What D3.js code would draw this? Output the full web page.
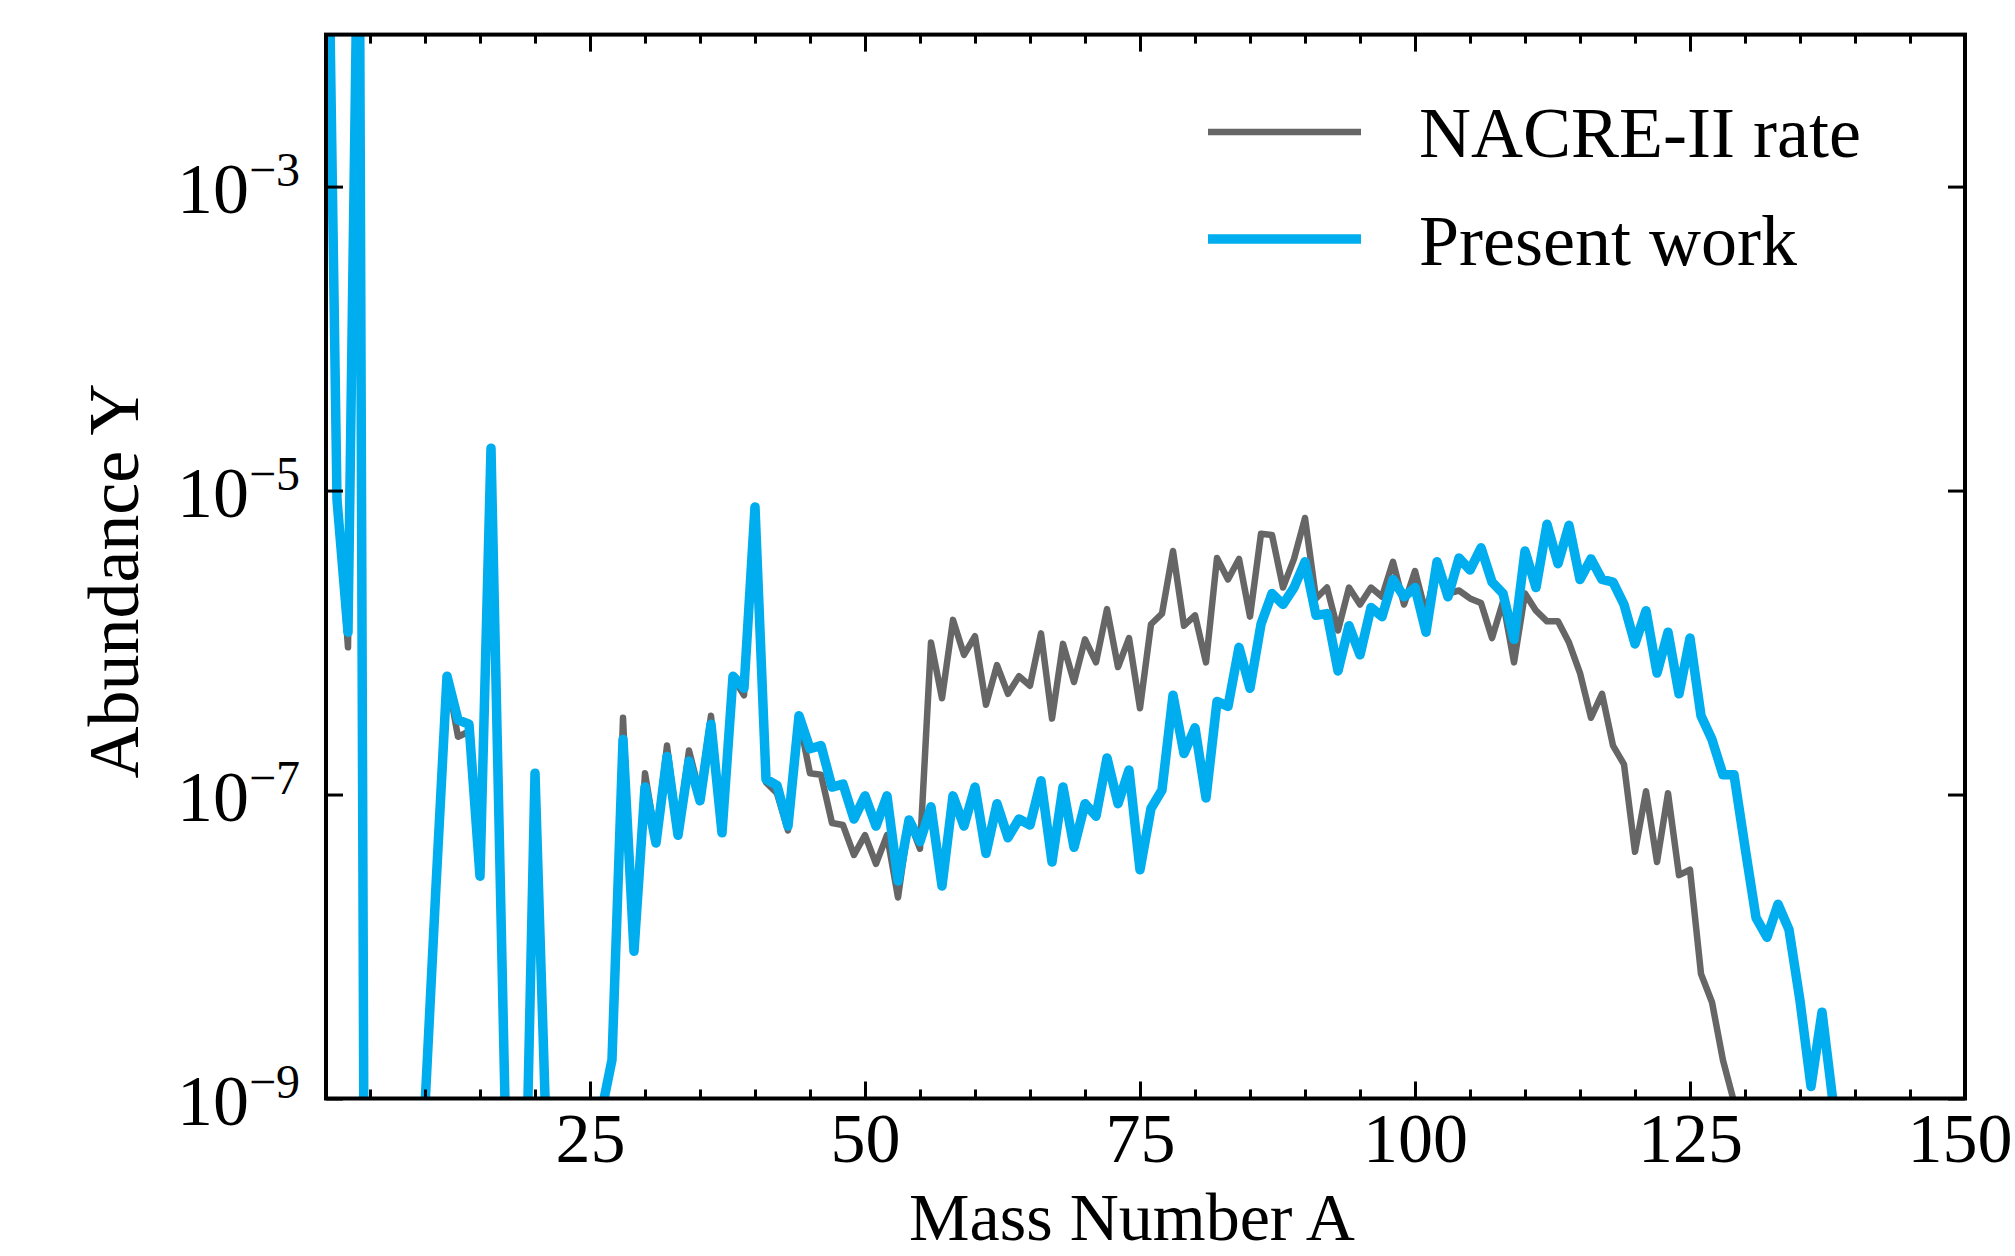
<!DOCTYPE html>
<html>
<head>
<meta charset="utf-8">
<script src="https://cdn.jsdelivr.net/npm/d3@7"></script>
<style>
  html, body { margin: 0; padding: 0; background: #ffffff; }
  svg { display: block; }
  text { font-family: "Liberation Serif", "DejaVu Serif", serif; fill: #000; }
</style>
</head>
<body>
<svg id="chart" width="2015" height="1256"></svg>
<script>
// ---------------- data ----------------
const massNumbers = d3.range(1, 141); // A = 1 .. 140

// NACRE-II rate abundances, A = 1..140
const nacreAbundance = [
  7.1e-1, 8.7e-6, 9.3e-7, 2.5e-1, 1e-20, 1e-20, 1e-20, 1e-20, 1e-20, 8.9e-10,   // 1-10
  2.5e-8, 6.0e-7, 2.4e-7, 2.6e-7, 2.9e-8, 1.9e-5, 7.9e-9, 3.2e-12, 6.3e-11, 1.38e-7, // 11-20
  6.3e-10, 1e-20, 1e-20, 1e-20, 1e-20, 7.9e-10, 1.8e-9, 3.2e-7, 9.3e-9, 1.38e-7, // 21-30
  5.0e-8, 2.1e-7, 5.6e-8, 1.95e-7, 1.0e-7, 3.3e-7, 5.6e-8, 5.9e-7, 4.5e-7, 7.8e-6, // 31-40
  1.2e-7, 1.02e-7, 5.8e-8, 3.16e-7, 1.38e-7, 1.35e-7, 6.5e-8, 6.3e-8, 4.0e-8, 5.4e-8, // 41-50
  3.5e-8, 5.4e-8, 2.1e-8, 6.8e-8, 4.4e-8, 1.0e-6, 4.3e-7, 1.41e-6, 8.3e-7, 1.10e-6, // 51-60
  3.9e-7, 7.1e-7, 4.6e-7, 6.0e-7, 5.2e-7, 1.15e-6, 3.16e-7, 9.8e-7, 5.5e-7, 1.05e-6, // 61-70
  7.4e-7, 1.66e-6, 6.9e-7, 1.07e-6, 3.7e-7, 1.32e-6, 1.55e-6, 4.0e-6, 1.29e-6, 1.51e-6, // 71-80
  7.4e-7, 3.6e-6, 2.6e-6, 3.55e-6, 1.48e-6, 5.2e-6, 5.1e-6, 2.3e-6, 3.55e-6, 6.6e-6, // 81-90
  1.95e-6, 2.3e-6, 1.2e-6, 2.3e-6, 1.78e-6, 2.3e-6, 2.0e-6, 3.4e-6, 1.78e-6, 2.95e-6, // 91-100
  1.55e-6, 3.3e-6, 2.1e-6, 2.2e-6, 1.95e-6, 1.82e-6, 1.07e-6, 1.86e-6, 7.4e-7, 2.1e-6, // 101-110
  1.62e-6, 1.38e-6, 1.38e-6, 1.0e-6, 6.3e-7, 3.2e-7, 4.6e-7, 2.1e-7, 1.58e-7, 4.2e-8, // 111-120
  1.05e-7, 3.6e-8, 1.02e-7, 2.95e-8, 3.2e-8, 6.6e-9, 4.3e-9, 1.78e-9, 9.5e-10, 1e-10, // 121-130
  1e-20, 1e-20, 1e-20, 1e-20, 1e-20, 1e-20, 1e-20, 1e-20, 1e-20, 1e-20            // 131-140
];

// Present work abundances, A = 1..140
const presentAbundance = [
  7.1e-1, 8.7e-6, 1.17e-6, 2.5e-1, 1e-20, 1e-20, 1e-20, 1e-20, 1e-20, 8.9e-10,  // 1-10
  2.5e-8, 6.0e-7, 3.1e-7, 2.9e-7, 2.9e-8, 1.9e-5, 7.9e-9, 3.2e-12, 6.3e-11, 1.38e-7, // 11-20
  6.3e-10, 1e-20, 1e-20, 1e-20, 1e-20, 7.9e-10, 1.8e-9, 2.3e-7, 9.3e-9, 1.12e-7, // 21-30
  4.8e-8, 1.78e-7, 5.4e-8, 1.66e-7, 9.1e-8, 2.9e-7, 5.6e-8, 6.0e-7, 5.0e-7, 7.8e-6, // 31-40
  1.26e-7, 1.15e-7, 6.2e-8, 3.3e-7, 2.0e-7, 2.1e-7, 1.12e-7, 1.17e-7, 6.9e-8, 9.8e-8, // 41-50
  6.2e-8, 9.8e-8, 2.7e-8, 6.8e-8, 4.9e-8, 8.3e-8, 2.5e-8, 9.8e-8, 6.2e-8, 1.12e-7, // 51-60
  4.1e-8, 8.7e-8, 5.2e-8, 6.9e-8, 6.3e-8, 1.23e-7, 3.6e-8, 1.12e-7, 4.5e-8, 8.7e-8, // 61-70
  7.2e-8, 1.74e-7, 8.7e-8, 1.45e-7, 3.2e-8, 8.1e-8, 1.07e-7, 4.5e-7, 1.86e-7, 2.75e-7, // 71-80
  9.5e-8, 4.1e-7, 3.8e-7, 9.3e-7, 5.0e-7, 1.32e-6, 2.1e-6, 1.78e-6, 2.3e-6, 3.4e-6, // 81-90
  1.51e-6, 1.55e-6, 6.5e-7, 1.29e-6, 8.3e-7, 1.70e-6, 1.48e-6, 2.6e-6, 2.0e-6, 2.3e-6, // 91-100
  1.17e-6, 3.4e-6, 2.0e-6, 3.6e-6, 3.0e-6, 4.2e-6, 2.5e-6, 2.1e-6, 1.05e-6, 4.0e-6, // 101-110
  2.3e-6, 6.0e-6, 3.3e-6, 5.9e-6, 2.6e-6, 3.55e-6, 2.6e-6, 2.5e-6, 1.78e-6, 9.8e-7, // 111-120
  1.62e-6, 6.3e-7, 1.17e-6, 4.6e-7, 1.07e-6, 3.3e-7, 2.3e-7, 1.35e-7, 1.35e-7, 4.5e-8, // 121-130
  1.55e-8, 1.15e-8, 1.9e-8, 1.29e-8, 4.4e-9, 1.2e-9, 3.7e-9, 9.5e-10, 1e-10, 1e-20   // 131-140
];

const seriesNames = ["NACRE-II rate", "Present work"];
const seriesColors = ["#666666", "#00ADEE"];
const xMajorTicks = [25, 50, 75, 100, 125, 150];
const xMinorTicks = d3.range(5, 150, 5).filter(v => v % 25 !== 0);
const yTickValues = [1e-3, 1e-5, 1e-7, 1e-9];
const yTickExponents = ["−3", "−5", "−7", "−9"];
const xLabel = "Mass Number A";
const yLabel = "Abundance Y";

// ---------------- layout ----------------
const W = 2015, H = 1256;
const L = 326, R = 1965, T = 34.6, B = 1098.5;
const FS = 72;

const svg = d3.select("#chart");
svg.append("rect").attr("width", W).attr("height", H).attr("fill", "#fff");

const x = d3.scaleLinear().domain([1, 150]).range([L, R]);
const y = d3.scaleLog().domain([1e-9, 1e-2]).range([B, T]);

svg.append("defs").append("clipPath").attr("id", "plotclip")
  .append("rect").attr("x", L).attr("y", T).attr("width", R - L).attr("height", B - T);

// ---------------- lines ----------------
const line = d3.line()
  .x(d => x(d[0]))
  .y(d => y(d[1]));

const plot = svg.append("g").attr("clip-path", "url(#plotclip)");
const seriesData = [nacreAbundance, presentAbundance];
const widths = [6.5, 9.5];
seriesData.forEach((vals, i) => {
  plot.append("path")
    .datum(massNumbers.map((a, k) => [a, vals[k]]))
    .attr("d", line)
    .attr("fill", "none")
    .attr("stroke", seriesColors[i])
    .attr("stroke-width", widths[i])
    .attr("stroke-linejoin", "round")
    .attr("stroke-linecap", "butt");
});

// ---------------- axes ----------------
function styleAxis(g) {
  g.select(".domain").remove();
  g.selectAll(".tick line").attr("stroke", "#000").attr("stroke-width", 3);
}

// bottom major with labels
const xAxisB = svg.append("g").attr("transform", `translate(0,${B})`)
  .call(d3.axisBottom(x).tickValues(xMajorTicks).tickSizeInner(-17).tickSizeOuter(0)
    .tickPadding(14).tickFormat(d3.format("d")));
styleAxis(xAxisB);
xAxisB.selectAll(".tick text").attr("font-size", 70).attr("font-family", "Liberation Serif, DejaVu Serif, serif");
// keep the last label ("150") inside the page
xAxisB.selectAll(".tick text").filter(d => d === 150)
  .attr("text-anchor", "end").attr("x", 2012 - R);

// bottom minor
styleAxis(svg.append("g").attr("transform", `translate(0,${B})`)
  .call(d3.axisBottom(x).tickValues(xMinorTicks).tickSizeInner(-9).tickSizeOuter(0).tickFormat("")));
// top major/minor
styleAxis(svg.append("g").attr("transform", `translate(0,${T})`)
  .call(d3.axisTop(x).tickValues(xMajorTicks).tickSizeInner(-17).tickSizeOuter(0).tickFormat("")));
styleAxis(svg.append("g").attr("transform", `translate(0,${T})`)
  .call(d3.axisTop(x).tickValues(xMinorTicks).tickSizeInner(-9).tickSizeOuter(0).tickFormat("")));

// left y
const yAxisL = svg.append("g").attr("transform", `translate(${L},0)`)
  .call(d3.axisLeft(y).tickValues(yTickValues).tickSizeInner(-17).tickSizeOuter(0).tickFormat(""));
styleAxis(yAxisL);
yAxisL.selectAll(".tick").each(function(d, i) {
  const t = d3.select(this).append("text")
    .attr("x", -26).attr("y", 26).attr("text-anchor", "end")
    .attr("font-size", FS).attr("fill", "#000");
  t.append("tspan").text("10");
  t.append("tspan").attr("font-size", 48).attr("dy", -27).text(yTickExponents[i]);
});
// right y
styleAxis(svg.append("g").attr("transform", `translate(${R},0)`)
  .call(d3.axisRight(y).tickValues(yTickValues).tickSizeInner(-17).tickSizeOuter(0).tickFormat("")));

// frame
svg.append("rect").attr("x", L).attr("y", T).attr("width", R - L).attr("height", B - T)
  .attr("fill", "none").attr("stroke", "#000").attr("stroke-width", 4);

// axis labels
svg.append("text").attr("x", 1132).attr("y", 1240).attr("text-anchor", "middle")
  .attr("font-size", 68).text(xLabel);
svg.append("text").attr("transform", "translate(138,581) rotate(-90)")
  .attr("text-anchor", "middle").attr("font-size", FS).text(yLabel);

// ---------------- legend ----------------
const legendY = [132, 239];
const legendBase = [157, 265];
seriesNames.forEach((name, i) => {
  svg.append("line").attr("x1", 1208).attr("x2", 1361)
    .attr("y1", legendY[i]).attr("y2", legendY[i])
    .attr("stroke", seriesColors[i]).attr("stroke-width", widths[i]);
  svg.append("text").attr("x", 1419).attr("y", legendBase[i])
    .attr("font-size", FS).text(name);
});
</script>
</body>
</html>
